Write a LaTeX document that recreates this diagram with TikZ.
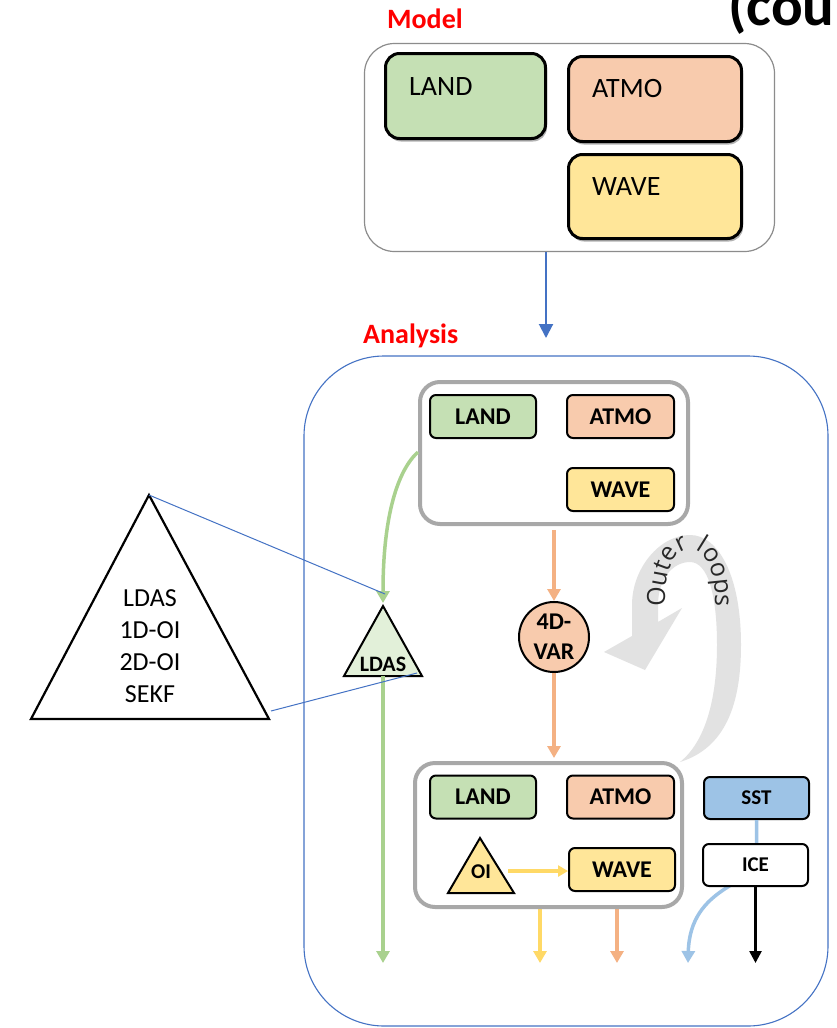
\documentclass[tikz,border=0pt]{standalone}
\usepackage{fontspec}
\setmainfont{Carlito}
\newfontfamily\loopfamily{Open Sans}
\usetikzlibrary{arrows.meta,shadows,decorations.text}

\definecolor{landfill}{HTML}{C5E0B4}
\definecolor{atmofill}{HTML}{F8CBAD}
\definecolor{wavefill}{HTML}{FFE699}
\definecolor{sstfill}{HTML}{9DC3E6}
\definecolor{ldasfill}{HTML}{E2F0D9}
\definecolor{landline}{HTML}{A9D18E}
\definecolor{atmoline}{HTML}{F4B183}
\definecolor{waveline}{HTML}{FFD966}
\definecolor{sstline}{HTML}{9DC3E6}
\definecolor{frameblue}{HTML}{4472C4}
\definecolor{panelgray}{RGB}{168,168,168}
\definecolor{modelgray}{RGB}{140,140,140}
\definecolor{loopgray}{RGB}{226,226,226}
\definecolor{looptext}{RGB}{40,40,40}
\definecolor{titlered}{HTML}{FF0000}

\newcommand{\fsz}[1]{\fontsize{#1}{#1}\selectfont}
\newcommand{\loopfont}{\loopfamily\fontsize{25}{25}\selectfont}

\begin{document}
\begin{tikzpicture}[x=1pt,y=-1pt,
  title/.style={font=\bfseries\fsz{28}, text=titlered, anchor=base west, inner sep=0pt},
  modelbox/.style={draw=black, line width=3pt, rounded corners=14pt, inner sep=0pt,
    drop shadow={shadow xshift=1.5pt, shadow yshift=-3pt, opacity=0.3, fill=black}},
  mtext/.style={font=\fsz{28}, anchor=base west, inner sep=0pt},
  panel/.style={draw=panelgray, fill=white, line width=4pt, rounded corners=20pt, inner sep=0pt},
  cell/.style={draw=black, line width=2pt, rounded corners=6pt, inner sep=0pt,
    minimum width=106pt, minimum height=43pt, font=\bfseries\fsz{24}},
  smallcell/.style={cell, font=\bfseries\fsz{21}},
  tip/.style={-{Triangle[width=13pt,length=12pt]}},
  landflow/.style={draw=landline, line width=3.5pt, tip},
  atmoflow/.style={draw=atmoline, line width=3.5pt, tip},
  waveflow/.style={draw=waveline, line width=3.5pt, tip},
  sstflow/.style={draw=sstline, line width=3.5pt, tip},
  iceflow/.style={draw=black, line width=2.5pt, -{Triangle[width=12pt,length=12pt]}},
  zoomline/.style={draw=frameblue, line width=1pt},
  tri/.style={draw=black, line width=2pt, line join=miter}
]
\useasboundingbox (0,0) rectangle (836,1028);
\fill[white] (0,0) rectangle (836,1028);

% heading cut by the page edge
\node[font=\bfseries\fsz{59}, anchor=base west, inner sep=0pt] (coutitle) at (728,25) {(cou};

% ---------------- model ----------------
\node[title] (modeltitle) at (387,28) {Model};
\node[draw=modelgray, line width=1.2pt, rounded corners=30pt, inner sep=0pt,
      minimum width=410pt, minimum height=208pt] (mbox) at (569.5,147.5) {};
\node[modelbox, fill=landfill, minimum width=160pt, minimum height=85pt] (mland) at (465.5,96) {};
\node[modelbox, fill=atmofill, minimum width=173pt, minimum height=85pt] (matmo) at (655,99) {};
\node[modelbox, fill=wavefill, minimum width=173pt, minimum height=84pt] (mwave) at (655,196.5) {};
\node[mtext] (mlandt) at (409,95) {LAND};
\node[mtext] (matmot) at (592,97) {ATMO};
\node[mtext] (mwavet) at (592,195) {WAVE};

\coordinate (mtip) at (546,338);
\draw[frameblue, line width=2pt, -{Triangle[width=14pt,length=14pt]}] (mbox.south -| mtip) -- (mtip);

% ---------------- analysis ----------------
\node[title] (antitle) at (363,343) {Analysis};
\node[draw=frameblue, line width=1.1pt, rounded corners=80pt, inner sep=0pt,
      minimum width=524pt, minimum height=670pt] (abox) at (566,691) {};

% outer loops: curved band with its head pointing at the 4D-VAR step
\fill[loopgray] (680,762) .. controls (725,748) and (741,705) .. (741,645)
  .. controls (741,575) and (718,535) .. (690,535)
  .. controls (660,535) and (632,568) .. (632,605)
  -- (632,636) -- (604,652) -- (645,670) -- (682,608) -- (658,622) -- (658,605)
  .. controls (658,580) and (672,562) .. (690,562)
  .. controls (708,562) and (717,595) .. (717,645)
  .. controls (717,700) and (705,742) .. (680,762) -- cycle;
\path[decorate, decoration={text along path, text color=looptext,
      text={|\loopfont|Outer loops}, text align=center}]
  (665,604) .. controls (663,530) and (717,530) .. (715,604);

% first guess panel
\node[panel, minimum width=268pt, minimum height=142pt] (tbox) at (554,453) {};
\node[cell, fill=landfill] (tland) at (483,416.5) {LAND};
\node[cell, fill=atmofill, minimum width=107pt] (tatmo) at (620.5,416.5) {ATMO};
\node[cell, fill=wavefill, minimum width=107pt] (twave) at (620.5,489.5) {WAVE};

% 4D-VAR
\node[circle, draw=black, line width=2pt, fill=atmofill, minimum size=70pt, inner sep=0pt,
      font=\bfseries\fontsize{24}{30}\selectfont, align=center] (var) at (554,637) {4D-\\VAR};
\draw[atmoflow, shorten <=4pt] (tbox.south -| var) -- (var.north);

% land data assimilation
\coordinate (lA) at (383,606);
\coordinate (lL) at (344,676);
\coordinate (lR) at (422,676);
\draw[tri, fill=ldasfill] (lA) -- (lR) -- (lL) -- cycle;
\node[font=\bfseries\fsz{22}, inner sep=0pt] (ldast) at (383,664) {LDAS};
\coordinate (gstart) at (tbox.west |- 0,452);
\draw[landflow, shorten >=3pt] (gstart) .. controls (398,470) and (383,515) .. (lA);
\coordinate (gend) at (383,963);
\draw[landflow] (lA |- lL) -- (gend);

% analysis panel
\draw[atmoflow, shorten >=3pt] (var.south) -- (554,761);
\coordinate (yend) at (540,963);
\coordinate (oend) at (617,963);
\draw[waveflow] (540,909) -- (yend);
\draw[atmoflow] (617,909) -- (oend);
\node[panel, fill=none, minimum width=267pt, minimum height=144pt] (bbox) at (548.5,835) {};
\node[cell, fill=landfill] (bland) at (483,797) {LAND};
\node[cell, fill=atmofill, minimum width=107pt] (batmo) at (620.5,797) {ATMO};
\node[cell, fill=wavefill] (bwave) at (622,869.5) {WAVE};
\coordinate (oA) at (480,838);
\coordinate (oL) at (448,893);
\coordinate (oR) at (514,893);
\draw[tri, fill=wavefill] (oA) -- (oR) -- (oL) -- cycle;
\node[font=\bfseries\fsz{21}, inner sep=0pt] (oit) at (481,872) {OI};
\coordinate (oiout) at (508,871);
\draw[waveflow, -{Triangle[width=11pt,length=10pt]}] (oiout) -- (bwave.west |- oiout);

% sea surface temperature and sea ice
\node[smallcell, fill=sstfill, minimum width=105pt, minimum height=42pt] (sst) at (756.5,798) {SST};
\coordinate (send) at (688,963);
\draw[sstflow] (sst.south) -- (sst.south |- 0,860) .. controls (756,885) and (690,885) .. (send);
\node[smallcell, fill=white, minimum width=105pt, minimum height=42pt] (ice) at (755.5,865) {ICE};
\draw[iceflow] (ice.south) -- (ice.south |- send);

% zoomed land data assimilation methods
\coordinate (bA) at (149,495);
\coordinate (bL) at (31,719);
\coordinate (bR) at (269,719);
\draw[tri, line width=2.2pt, fill=white] (bA) -- (bR) -- (bL) -- cycle;
\node[font=\fontsize{26}{32}\selectfont, align=center, inner sep=0pt] (bigtext) at (150,646)
  {LDAS\\1D-OI\\2D-OI\\SEKF};
\coordinate (bRin) at (271,711);
\coordinate (lAtop) at (385,594);
\coordinate (lRend) at (417,673);
\draw[zoomline] (bA) -- (lAtop);
\draw[zoomline] (bRin) -- (lRend);
\end{tikzpicture}
\end{document}
